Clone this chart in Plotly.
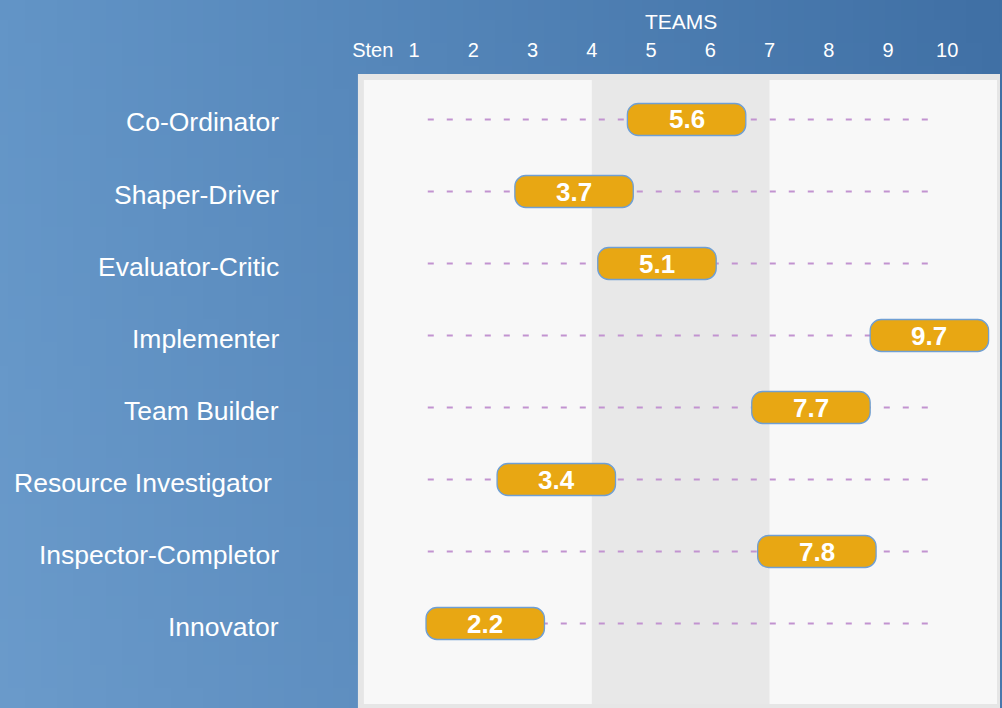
import base64
import struct
import zlib

import plotly.graph_objects as go

# ---------------- data ----------------
roles = [
    "Co-Ordinator",
    "Shaper-Driver",
    "Evaluator-Critic",
    "Implementer",
    "Team Builder",
    "Resource Investigator\u00a0",
    "Inspector-Completor",
    "Innovator",
]
scores = [5.6, 3.7, 5.1, 9.7, 7.7, 3.4, 7.8, 2.2]
tick_values = [0.3, 1, 2, 3, 4, 5, 6, 7, 8, 9, 10]
tick_labels = ["Sten", "1", "2", "3", "4", "5", "6", "7", "8", "9", "10"]
axis_title = "TEAMS"
band_range = [4, 7]
guide_range = [1.23, 9.8]

# ---------------- geometry / style ----------------
W, H = 1002, 708
PLOT_L, PLOT_R, PLOT_T = 353, 1000, 74
PX_PER_X = 59.4
ROW0_PX, ROW_PX = 119.5, 72.0
x_max = (PLOT_R - PLOT_L) / PX_PER_X
y_top = (PLOT_T - ROW0_PX) / ROW_PX
y_bot = (H - ROW0_PX) / ROW_PX

FONT = "Liberation Sans, Arial, sans-serif"
BAR_FILL = "#e8a713"
BAR_LINE = "#6f9fd4"
GUIDE = "#c293d0"


def make_gradient_png(w, h):
    tl, tr = (99, 149, 199), (63, 111, 164)
    bl, br = (107, 155, 203), (72, 120, 173)
    rows = []
    for j in range(h):
        fy = j / (h - 1)
        row = bytearray([0])
        for i in range(w):
            fx = i / (w - 1)
            for c in range(3):
                top = tl[c] + (tr[c] - tl[c]) * fx
                bot = bl[c] + (br[c] - bl[c]) * fx
                row.append(int(round(top + (bot - top) * fy)))
        rows.append(bytes(row))
    raw = b"".join(rows)

    def chunk(tag, data):
        return (struct.pack(">I", len(data)) + tag + data
                + struct.pack(">I", zlib.crc32(tag + data) & 0xffffffff))

    png = (b"\x89PNG\r\n\x1a\n"
           + chunk(b"IHDR", struct.pack(">IIBBBBB", w, h, 8, 2, 0, 0, 0))
           + chunk(b"IDAT", zlib.compress(raw, 9))
           + chunk(b"IEND", b""))
    return "data:image/png;base64," + base64.b64encode(png).decode()


def rounded_path(x0, x1, y0, y1, rx, ry):
    k = 0.5523
    return (
        f"M {x0 + rx},{y0} L {x1 - rx},{y0} "
        f"C {x1 - rx + rx * k},{y0} {x1},{y0 + ry - ry * k} {x1},{y0 + ry} "
        f"L {x1},{y1 - ry} "
        f"C {x1},{y1 - ry + ry * k} {x1 - rx + rx * k},{y1} {x1 - rx},{y1} "
        f"L {x0 + rx},{y1} "
        f"C {x0 + rx - rx * k},{y1} {x0},{y1 - ry + ry * k} {x0},{y1 - ry} "
        f"L {x0},{y0 + ry} "
        f"C {x0},{y0 + ry - ry * k} {x0 + rx - rx * k},{y0} {x0 + rx},{y0} Z"
    )


fig = go.Figure()

# dashed guide lines
for i, _ in enumerate(roles):
    fig.add_trace(go.Scatter(
        x=guide_range, y=[i, i], mode="lines",
        line=dict(color=GUIDE, width=1.8, dash="6px,13px"),
        hoverinfo="skip", showlegend=False,
    ))

shapes = []
# panel outer border
shapes.append(dict(type="rect", xref="paper", yref="paper", layer="below",
                   x0=356 / W, x1=1000 / W, y0=0, y1=(H - PLOT_T) / H,
                   fillcolor="#e6e6e6", line=dict(width=0)))
# panel inner
shapes.append(dict(type="rect", xref="paper", yref="paper", layer="below",
                   x0=362 / W, x1=997 / W, y0=4 / H, y1=(H - 80) / H,
                   fillcolor="#f8f8f8", line=dict(width=0)))
# shaded band
shapes.append(dict(type="rect", xref="x", yref="paper", layer="below",
                   x0=band_range[0], x1=band_range[1], y0=4 / H, y1=(H - 80) / H,
                   fillcolor="#e8e8e8", line=dict(width=0)))

# rounded bars
half_h = 16 / ROW_PX
rx, ry = 11 / PX_PER_X, 11 / ROW_PX
for i, v in enumerate(scores):
    shapes.append(dict(
        type="path", xref="x", yref="y", layer="above",
        path=rounded_path(v - 1, v + 1, i - half_h, i + half_h, rx, ry),
        fillcolor=BAR_FILL, line=dict(color=BAR_LINE, width=1.3),
    ))

annotations = []
for i, (r, v) in enumerate(zip(roles, scores)):
    annotations.append(dict(
        text=r, xref="paper", yref="y", x=279 / W, y=i,
        xanchor="right", yanchor="middle", yshift=-3, showarrow=False,
        font=dict(family=FONT, size=26.5, color="white"),
    ))
    annotations.append(dict(
        text=f"<b>{v:.1f}</b>", xref="x", yref="y", x=v, y=i,
        xanchor="center", yanchor="middle", yshift=0, showarrow=False,
        font=dict(family=FONT, size=26, color="white"),
    ))
annotations.append(dict(
    text=axis_title, xref="x", yref="paper", x=5.5, y=(H - 21) / H,
    xanchor="center", yanchor="middle", showarrow=False,
    font=dict(family=FONT, size=21, color="white"),
))

fig.update_layout(
    width=W, height=H,
    margin=dict(l=0, r=0, t=0, b=0),
    paper_bgcolor="#5a8bbf",
    plot_bgcolor="rgba(0,0,0,0)",
    showlegend=False,
    shapes=shapes,
    annotations=annotations,
    images=[dict(source=make_gradient_png(64, 32), xref="paper", yref="paper",
                 x=-0.02, y=1.02, sizex=1.04, sizey=1.04, xanchor="left", yanchor="top",
                 sizing="stretch", layer="below")],
    xaxis=dict(
        domain=[PLOT_L / W, PLOT_R / W], range=[0, x_max],
        side="top", tickvals=tick_values, ticktext=tick_labels,
        ticks="", ticklabelstandoff=12,
        tickfont=dict(family=FONT, size=20, color="white"),
        showgrid=False, zeroline=False, showline=False, fixedrange=True,
    ),
    yaxis=dict(
        domain=[0, (H - PLOT_T) / H], range=[y_bot, y_top],
        visible=False, showgrid=False, zeroline=False, fixedrange=True,
    ),
)

fig.write_html(
    "out.html",
    config={"displayModeBar": False},
    post_script="document.body.style.margin='0';document.body.style.overflow='hidden';",
)
